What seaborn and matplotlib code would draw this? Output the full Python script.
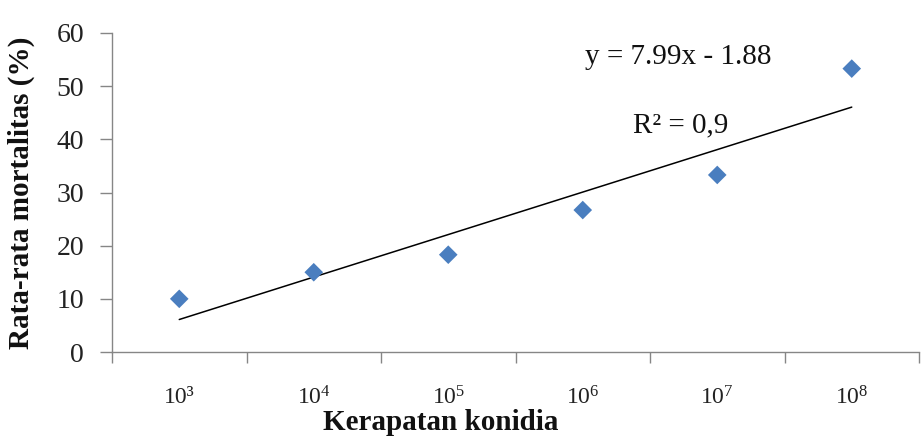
import numpy as np
import pandas as pd
import matplotlib
matplotlib.use("Agg")
import matplotlib.pyplot as plt
import seaborn as sns

categories = ["10³", r"$10^{4}$", r"$10^{5}$", r"$10^{6}$", r"$10^{7}$", r"$10^{8}$"]
mortality = [10.0, 15.0, 18.3, 26.7, 33.3, 53.3]
slope = 7.99
intercept = -1.88
eq_text = "y = 7.99x - 1.88"
r2_text = "R² = 0,9"
yticks = [0, 10, 20, 30, 40, 50, 60]

sns.set_theme(style="white")
plt.rcParams["font.family"] = ["Liberation Serif", "DejaVu Serif"]
plt.rcParams["mathtext.fontset"] = "custom"
plt.rcParams["mathtext.rm"] = "Liberation Serif"
plt.rcParams["mathtext.it"] = "Liberation Serif"

df = pd.DataFrame({"pos": np.arange(len(categories)), "mort": mortality})
trend = pd.DataFrame({"pos": df["pos"], "fit": slope * (df["pos"] + 1) + intercept})

fig = plt.figure(figsize=(9.24, 4.42), dpi=100)
ax = fig.add_axes([112 / 924, (442 - 352) / 442, (919 - 112) / 924, (352 - 33) / 442])

sns.lineplot(data=trend, x="pos", y="fit", ax=ax, color="black", linewidth=1.1)
sns.scatterplot(data=df, x="pos", y="mort", ax=ax, marker="D", s=90,
                color="#4A7EBF", edgecolor="none", zorder=3)

ax.set_xlim(-0.5, len(categories) - 0.5)
ax.set_ylim(0, 60)
ax.set_yticks(yticks)
ax.set_yticklabels([str(v) for v in yticks], fontsize=20, color="#222222")
ax.set_xticks(np.arange(-0.5, len(categories) + 0.5, 1))
ax.set_xticklabels([])
ax.set_xticks(np.arange(len(categories)), minor=True)
ax.set_xticklabels(categories, minor=True, fontsize=17, color="#222222")
ax.tick_params(axis="x", which="major", direction="out", length=8, width=1, color="#868686", bottom=True)
ax.tick_params(axis="x", which="minor", length=0, pad=25, bottom=True)
ax.tick_params(axis="y", direction="out", length=9, width=1, color="#868686", left=True, pad=11)

for s in ["top", "right"]:
    ax.spines[s].set_visible(False)
for s in ["left", "bottom"]:
    ax.spines[s].set_color("#868686")
    ax.spines[s].set_linewidth(1)

ax.set_xlabel("Kerapatan konidia", fontsize=21, fontweight="bold", color="#111111")
ax.xaxis.set_label_coords(0.407, -0.178)
ax.set_ylabel("Rata-rata mortalitas (%)", fontsize=21, fontweight="bold", color="#111111")
ax.yaxis.set_label_coords(-0.095, 0.5)

ax.text(0.586, 0.903, eq_text, transform=ax.transAxes, fontsize=21, ha="left", va="baseline", color="#111111")
ax.text(0.646, 0.690, r2_text, transform=ax.transAxes, fontsize=21, ha="left", va="baseline", color="#111111")

fig.savefig("out.png", dpi=100)
